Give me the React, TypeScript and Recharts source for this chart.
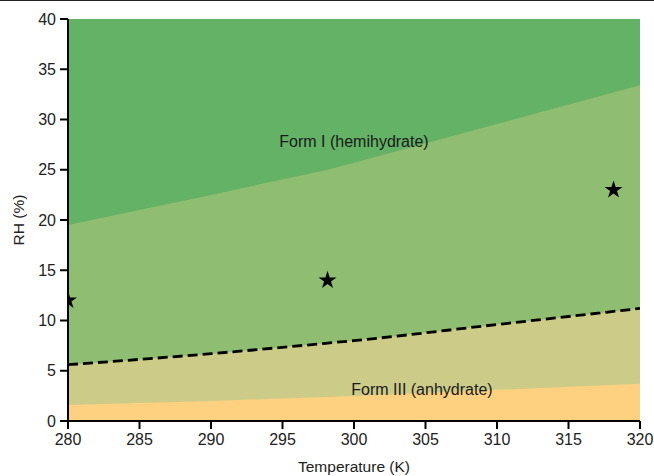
import React from 'react';
import { ComposedChart, Area, Line, Scatter, XAxis, YAxis, ZAxis, ReferenceDot } from 'recharts';

const temperatures = [280, 290, 298.15, 300, 310, 320];
const formICeiling = [40, 40, 40, 40, 40, 40];
const upperBoundary = [19.5, 22.5, 25.0, 25.7, 29.55, 33.4];
const dashedBoundary = [5.6, 6.7, 7.75, 8.0, 9.6, 11.2];
const lowerBoundary = [1.6, 2.0, 2.4, 2.5, 3.1, 3.7];

const starT = [280, 298.15, 318.15];
const starRH = [12, 14, 23];

const xTicks = [280, 285, 290, 295, 300, 305, 310, 315, 320];
const yTicks = [0, 5, 10, 15, 20, 25, 30, 35, 40];

const data = temperatures.map((T, i) => ({
  T,
  top: formICeiling[i],
  upper: upperBoundary[i],
  dashed: dashedBoundary[i],
  lower: lowerBoundary[i],
}));
const stars = starT.map((T, i) => ({ T, RH: starRH[i] }));

const font = '"Liberation Sans", Arial, Helvetica, sans-serif';

const YLabel = (props: any) => {
  const vb = props.viewBox || { x: 0, y: 0, width: 0, height: 0 };
  const cx = vb.x + 18;
  const cy = vb.y + vb.height / 2;
  return (
    <text x={cx} y={cy} transform={`rotate(-90 ${cx} ${cy})`} textAnchor="middle" dominantBaseline="central" fill="#222" fontSize={15.5} fontFamily={font}>
      RH (%)
    </text>
  );
};

export default function App() {
  return (
    <div style={{ position: 'absolute', left: 0, top: 0, width: 654, height: 476, background: '#fff', fontFamily: font }}>
      <div style={{ position: 'absolute', left: 0, top: 0, width: 654, height: 1, background: '#222' }} />
      <ComposedChart width={654} height={476} data={data} margin={{ top: 19, right: 14, left: 0, bottom: 0 }}>
        <XAxis
          dataKey="T"
          type="number"
          domain={[280, 320]}
          ticks={xTicks}
          allowDataOverflow
          height={55}
          tickSize={8}
          tickMargin={5}
          stroke="#000"
          strokeWidth={2}
          tick={{ fill: '#222', fontSize: 16, fontFamily: font }}
          label={{ value: 'Temperature (K)', position: 'insideBottom', offset: 4, fill: '#222', fontSize: 15.5, fontFamily: font }}
        />
        <YAxis
          type="number"
          domain={[0, 40]}
          ticks={yTicks}
          allowDataOverflow
          width={68}
          tickSize={8}
          tickMargin={4}
          stroke="#000"
          strokeWidth={2}
          tick={{ fill: '#222', fontSize: 16, fontFamily: font }}
          label={<YLabel />}
        />
        <ZAxis range={[100, 100]} />
        <Area dataKey="top" type="linear" fill="#63b265" fillOpacity={1} stroke="none" isAnimationActive={false} />
        <Area dataKey="upper" type="linear" fill="#8fbd72" fillOpacity={1} stroke="none" isAnimationActive={false} />
        <Area dataKey="dashed" type="monotone" fill="#cdcb88" fillOpacity={1} stroke="none" isAnimationActive={false} />
        <Area dataKey="lower" type="linear" fill="#fdd180" fillOpacity={1} stroke="none" isAnimationActive={false} />
        <Line dataKey="dashed" type="monotone" stroke="#000" strokeWidth={2.8} strokeDasharray="10 5" dot={false} isAnimationActive={false} />
        <Scatter data={stars} dataKey="RH" shape="star" fill="#000" isAnimationActive={false} />
        <ReferenceDot x={300} y={27.8} r={0} stroke="none" label={{ value: 'Form I (hemihydrate)', position: 'center', fill: '#1a1a1a', fontSize: 16, fontFamily: font }} />
        <ReferenceDot x={304.75} y={3.2} r={0} stroke="none" label={{ value: 'Form III (anhydrate)', position: 'center', fill: '#1a1a1a', fontSize: 16, fontFamily: font }} />
      </ComposedChart>
    </div>
  );
}
